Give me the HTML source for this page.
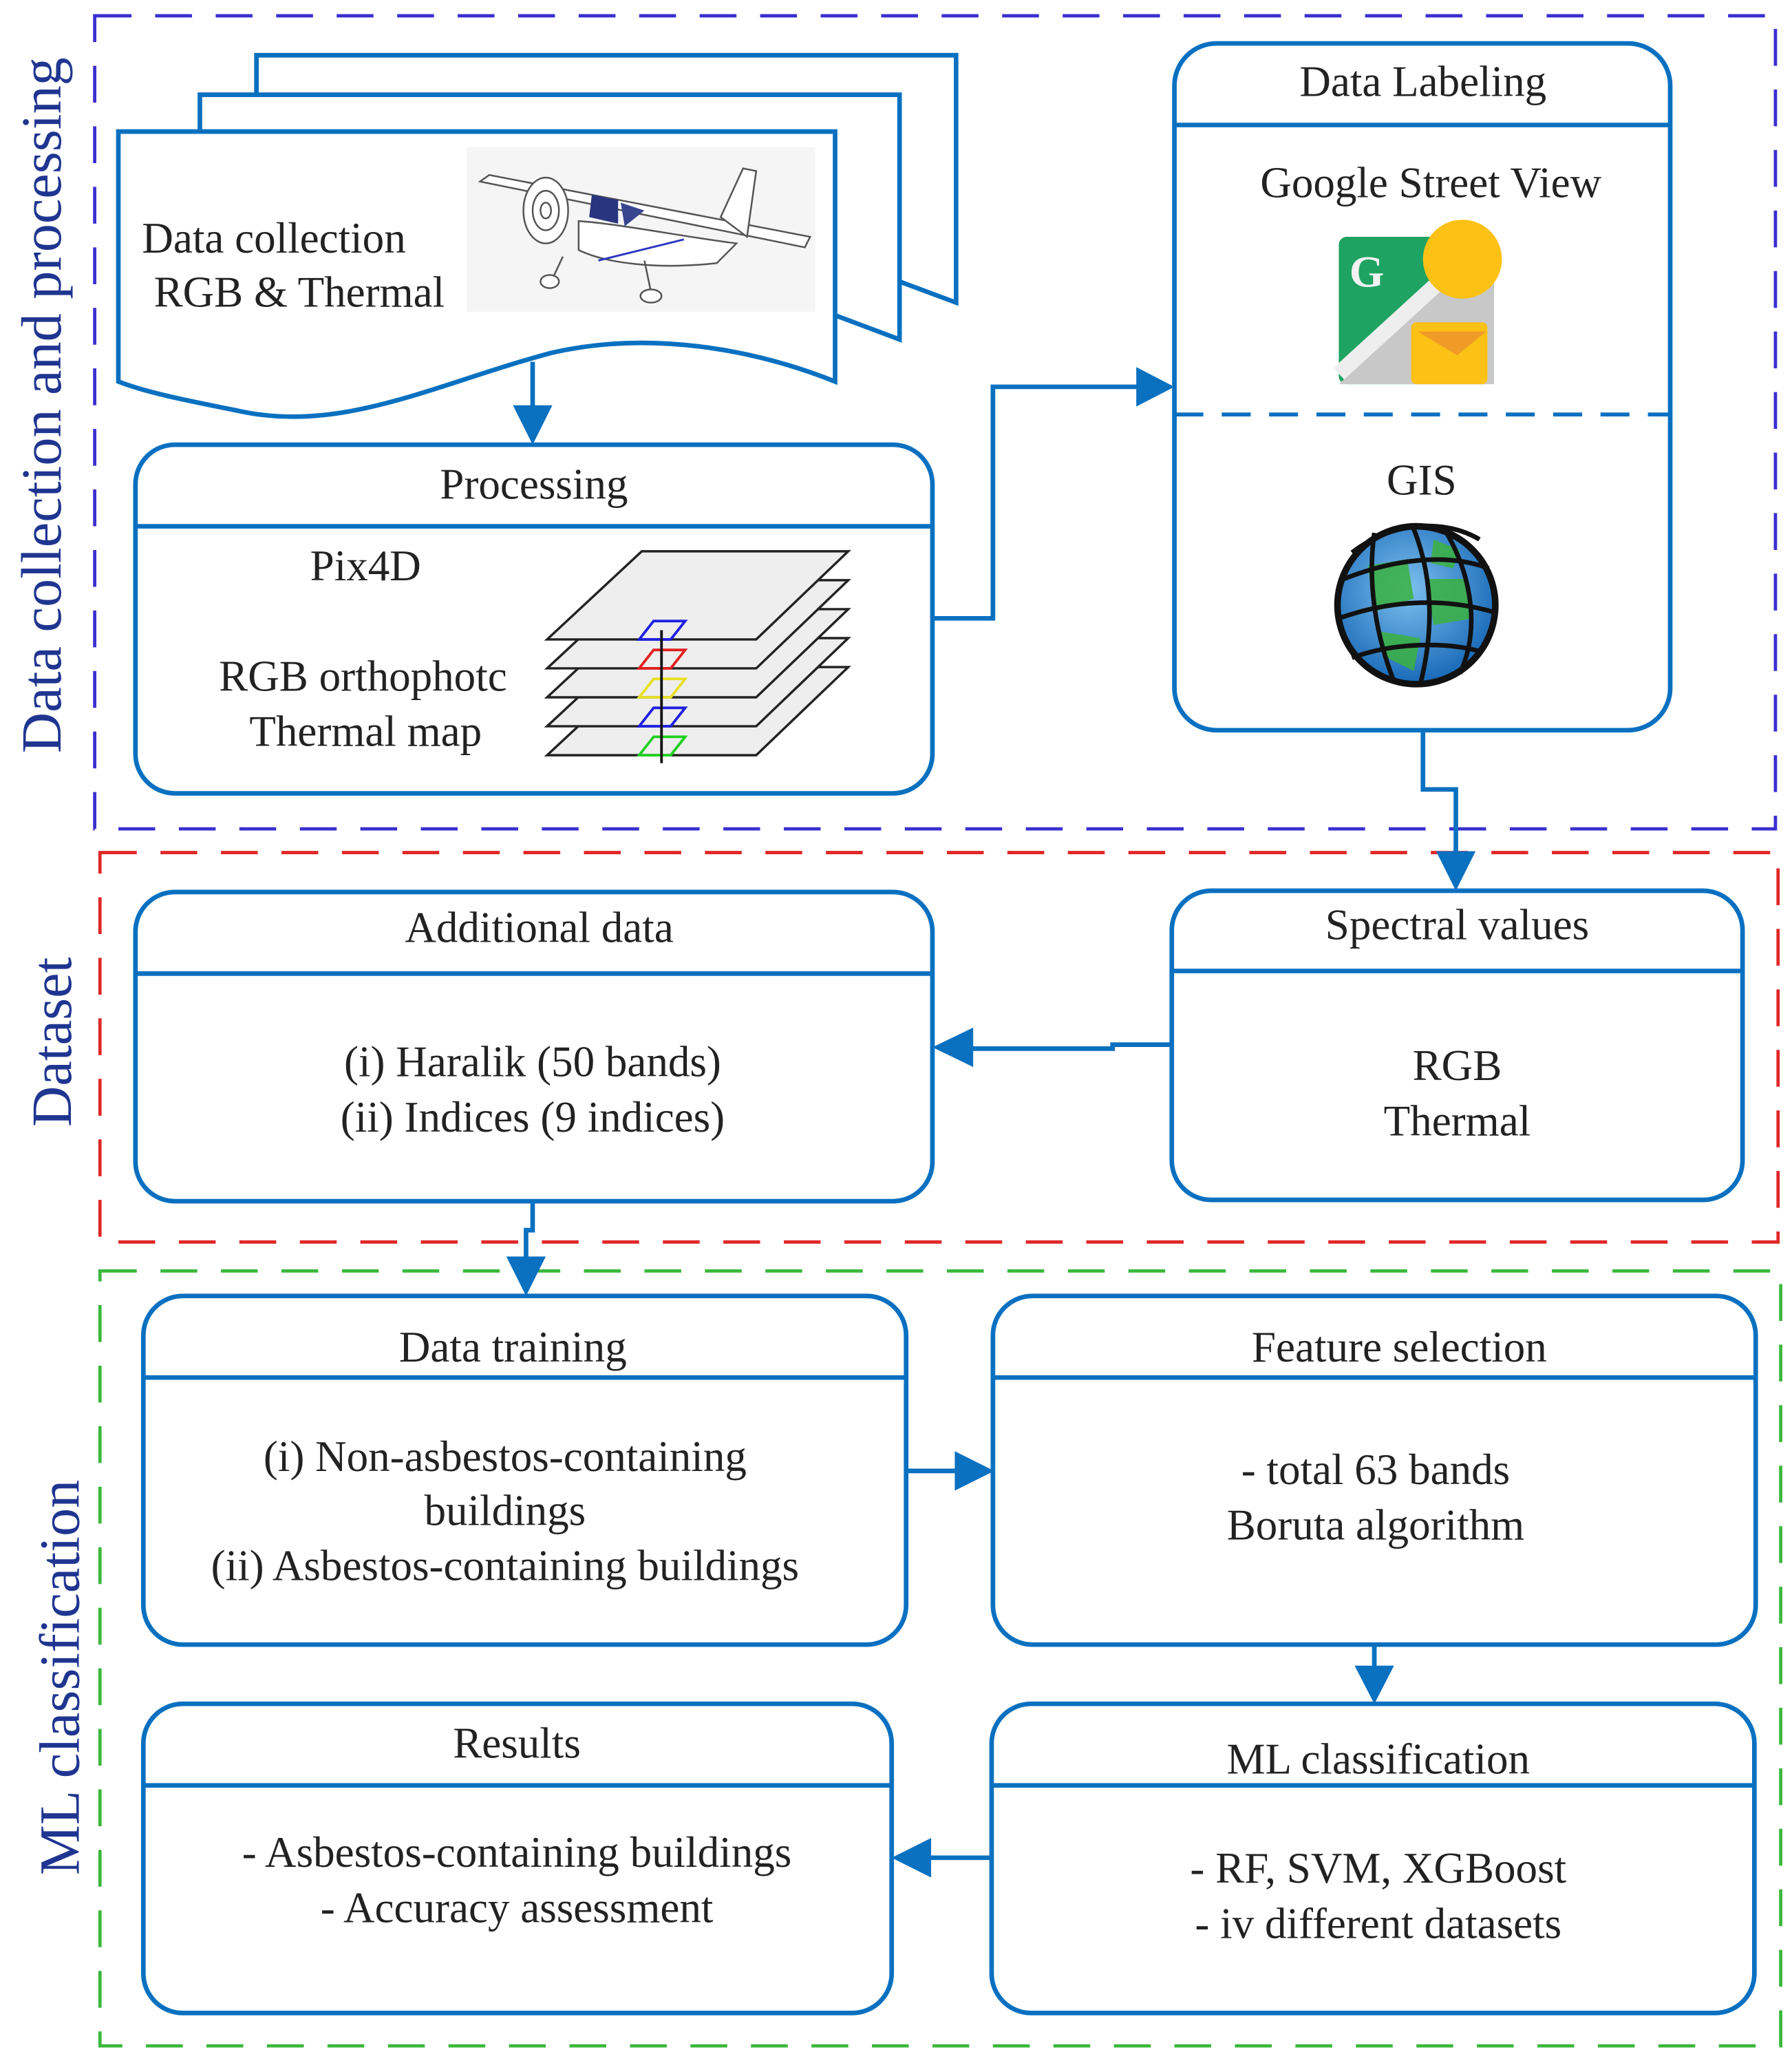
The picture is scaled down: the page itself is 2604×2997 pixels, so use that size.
<!DOCTYPE html>
<html><head><meta charset="utf-8"><style>
html,body{margin:0;padding:0;background:#fff;}
svg{display:block;}
text{font-family:"Liberation Serif",serif;fill:#222;}
</style></head><body>
<svg width="2604" height="2997" viewBox="0 0 1362.6 1568" preserveAspectRatio="none" xmlns="http://www.w3.org/2000/svg">
<defs>
<radialGradient id="gl" cx="45%" cy="40%" r="60%"><stop offset="0" stop-color="#7cc0ee"/><stop offset="1" stop-color="#1a6ab8"/></radialGradient>
</defs>
<rect width="1362.6" height="1568" fill="#fff"/>

<rect x="72" y="12" width="1278" height="618" fill="none" stroke="#3b2fd0" stroke-width="2.5" stroke-dasharray="28 18"/>
<rect x="76" y="648" width="1276" height="296" fill="none" stroke="#e02828" stroke-width="2.5" stroke-dasharray="28 18"/>
<rect x="76" y="966" width="1278" height="589" fill="none" stroke="#3cb83c" stroke-width="2.5" stroke-dasharray="28 18"/>

<text transform="translate(46,308) rotate(-90)" text-anchor="middle" font-size="43" style="fill:#1f3590">Data collection and processing</text>
<text transform="translate(54,792) rotate(-90)" text-anchor="middle" font-size="43" style="fill:#1f3590">Dataset</text>
<text transform="translate(60,1275) rotate(-90)" text-anchor="middle" font-size="43" style="fill:#1f3590">ML classification</text>

<g fill="none" stroke="#0a70c0" stroke-width="3.5">
<path d="M195,72 V42 H727 V230 L684,214" fill="#fff"/>
<path d="M152,100 V72 H684 V258 L636,240" fill="#fff"/>
<path d="M90,290 V100 H635 V290 C580,268 500,250 420,268 C330,292 260,330 180,312 C140,304 110,298 90,290 Z" fill="#fff"/>
</g>
<rect x="355" y="112" width="265" height="125" fill="#f5f5f5"/>
<g stroke="#555" stroke-width="1.3" fill="#fff">
<path d="M365,138 L372,133 L616,180 L612,188 Z"/>
<path d="M440,168 C470,170 520,180 560,185 L545,200 C500,205 460,200 440,190 Z"/>
<path d="M548,165 L565,128 L575,130 L568,180 Z"/>
<ellipse cx="415" cy="160" rx="17" ry="25"/>
<ellipse cx="415" cy="160" rx="10" ry="15"/>
<ellipse cx="415" cy="160" rx="4" ry="6"/>
<path d="M428,195 L420,212 M490,198 L495,222"/>
<ellipse cx="495" cy="225" rx="8" ry="5"/>
<ellipse cx="418" cy="214" rx="7" ry="5"/>
</g>
<path d="M450,148 L470,152 L470,170 L448,165 Z" fill="#2a3580"/>
<path d="M472,154 L490,160 L475,172 Z" fill="#3a4590"/>
<path d="M455,198 L520,182" stroke="#2a35c0" stroke-width="1.5"/>
<text x="108" y="192" font-size="33">Data collection</text>
<text x="117" y="233" font-size="33">RGB &amp; Thermal</text>

<g fill="none" stroke="#0a70c0" stroke-width="3.5">
<path d="M405,275 V312"/>
<path d="M709,470 H755 V294 H868"/>
<path d="M1082,555 V600 H1107 V650"/>
<path d="M891,794 H846 V797 H735"/>
<path d="M405,913 V935 H400 V958"/>
<path d="M689,1118 H730"/>
<path d="M1045,1250 V1270"/>
<path d="M754,1412 H703"/>
</g>
<g fill="#0a70c0">
<polygon points="390,308 420,308 405,338"/>
<polygon points="864,279 864,309 893,294"/>
<polygon points="1092,647 1122,647 1107,677"/>
<polygon points="740,781 740,811 709,796"/>
<polygon points="385,955 415,955 400,985"/>
<polygon points="726,1103 726,1133 756,1118"/>
<polygon points="1030,1266 1060,1266 1045,1295"/>
<polygon points="708,1397 708,1427 678,1412"/>
</g>

<g fill="#fff" stroke="#0a70c0" stroke-width="3.5">
<rect x="103" y="338" width="606" height="265" rx="30"/>
<rect x="893" y="33" width="377" height="522" rx="32"/>
<rect x="891" y="677" width="434" height="235" rx="30"/>
<rect x="103" y="678" width="606" height="235" rx="30"/>
<rect x="109" y="985" width="580" height="265" rx="30"/>
<rect x="755" y="985" width="580" height="265" rx="30"/>
<rect x="754" y="1295" width="580" height="235" rx="30"/>
<rect x="109" y="1295" width="569" height="235" rx="30"/>
</g>
<g stroke="#0a70c0" stroke-width="3.5">
<line x1="103" y1="400" x2="709" y2="400"/>
<line x1="893" y1="95" x2="1270" y2="95"/>
<line x1="893" y1="315" x2="1270" y2="315" stroke-dasharray="22 14" stroke-width="3"/>
<line x1="891" y1="738" x2="1325" y2="738"/>
<line x1="103" y1="740" x2="709" y2="740"/>
<line x1="109" y1="1047" x2="689" y2="1047"/>
<line x1="755" y1="1047" x2="1335" y2="1047"/>
<line x1="754" y1="1357" x2="1334" y2="1357"/>
<line x1="109" y1="1357" x2="678" y2="1357"/>
</g>

<g stroke="#222" stroke-width="1.8" fill="#eee">
<polygon points="488,507 645,507 575,574 416,574"/>
<polygon points="488,485 645,485 575,552 416,552"/>
<polygon points="488,463 645,463 575,530 416,530"/>
<polygon points="488,441 645,441 575,508 416,508"/>
<polygon points="488,419 645,419 575,486 416,486"/>
</g>
<g fill="none" stroke-width="2">
<polygon points="497,472 521,472 510,486 486,486" stroke="#2020e0"/>
<polygon points="497,494 521,494 510,508 486,508" stroke="#e02020"/>
<polygon points="497,516 521,516 510,530 486,530" stroke="#e8e020"/>
<polygon points="497,538 521,538 510,552 486,552" stroke="#2020e0"/>
<polygon points="497,560 521,560 510,574 486,574" stroke="#20d020"/>
<line x1="503" y1="479" x2="503" y2="580" stroke="#111"/>
</g>

<rect x="1018" y="180" width="118" height="112" rx="6" fill="#1ea362"/>
<polygon points="1018,292 1136,180 1136,292" fill="#c8c8c8"/>
<path d="M1018,284 L1110,200" stroke="#eee" stroke-width="12"/>
<rect x="1073" y="245" width="58" height="47" rx="4" fill="#fbc114"/>
<path d="M1078,252 L1130,252 L1108,270 Z" fill="#f09a28"/>
<circle cx="1112" cy="197" r="30" fill="#fbc114"/>
<text x="1026" y="218" font-family="Liberation Sans,sans-serif" font-weight="bold" font-size="34" style="fill:#f2f2f2">G</text>

<circle cx="1077" cy="460" r="60" fill="url(#gl)" stroke="#111" stroke-width="5"/>
<g fill="#3bb240" opacity="0.85">
<path d="M1040,430 L1070,425 L1075,455 L1045,465 Z"/>
<path d="M1085,440 L1115,440 L1120,470 L1090,475 Z"/>
<path d="M1050,480 L1080,485 L1075,510 L1055,500 Z"/>
<path d="M1090,410 L1110,418 L1105,432 L1088,428 Z"/>
</g>
<g fill="none" stroke="#111" stroke-width="3.5">
<path d="M1022,440 C1060,425 1100,420 1132,432"/>
<path d="M1018,470 C1060,455 1100,455 1135,465"/>
<path d="M1028,500 C1060,488 1100,488 1125,495"/>
<path d="M1045,405 C1040,440 1045,480 1060,518"/>
<path d="M1075,402 C1090,440 1090,480 1080,520"/>
<path d="M1100,405 C1120,440 1125,480 1110,512"/>
<path d="M1028,420 C1060,395 1100,395 1125,410"/>
</g>

<g font-size="33" text-anchor="middle">
<text x="406" y="379">Processing</text>
<text x="278" y="441">Pix4D</text>
<text x="276" y="525">RGB orthophotc</text>
<text x="278" y="567">Thermal map</text>
<text x="1082" y="73">Data Labeling</text>
<text x="1088" y="150">Google Street View</text>
<text x="1081" y="376">GIS</text>
<text x="1108" y="714">Spectral values</text>
<text x="1108" y="821">RGB</text>
<text x="1108" y="863">Thermal</text>
<text x="410" y="716">Additional data</text>
<text x="405" y="818">(i) Haralik (50 bands)</text>
<text x="405" y="860">(ii) Indices (9 indices)</text>
<text x="390" y="1035">Data training</text>
<text x="384" y="1118">(i) Non-asbestos-containing</text>
<text x="384" y="1159">buildings</text>
<text x="384" y="1201">(ii) Asbestos-containing buildings</text>
<text x="1064" y="1035">Feature selection</text>
<text x="1046" y="1128">- total 63 bands</text>
<text x="1046" y="1170">Boruta algorithm</text>
<text x="1048" y="1348">ML classification</text>
<text x="1048" y="1431">- RF, SVM, XGBoost</text>
<text x="1048" y="1473">- iv different datasets</text>
<text x="393" y="1336">Results</text>
<text x="393" y="1419">- Asbestos-containing buildings</text>
<text x="393" y="1461">- Accuracy assessment</text>
</g>
</svg>
</body></html>
